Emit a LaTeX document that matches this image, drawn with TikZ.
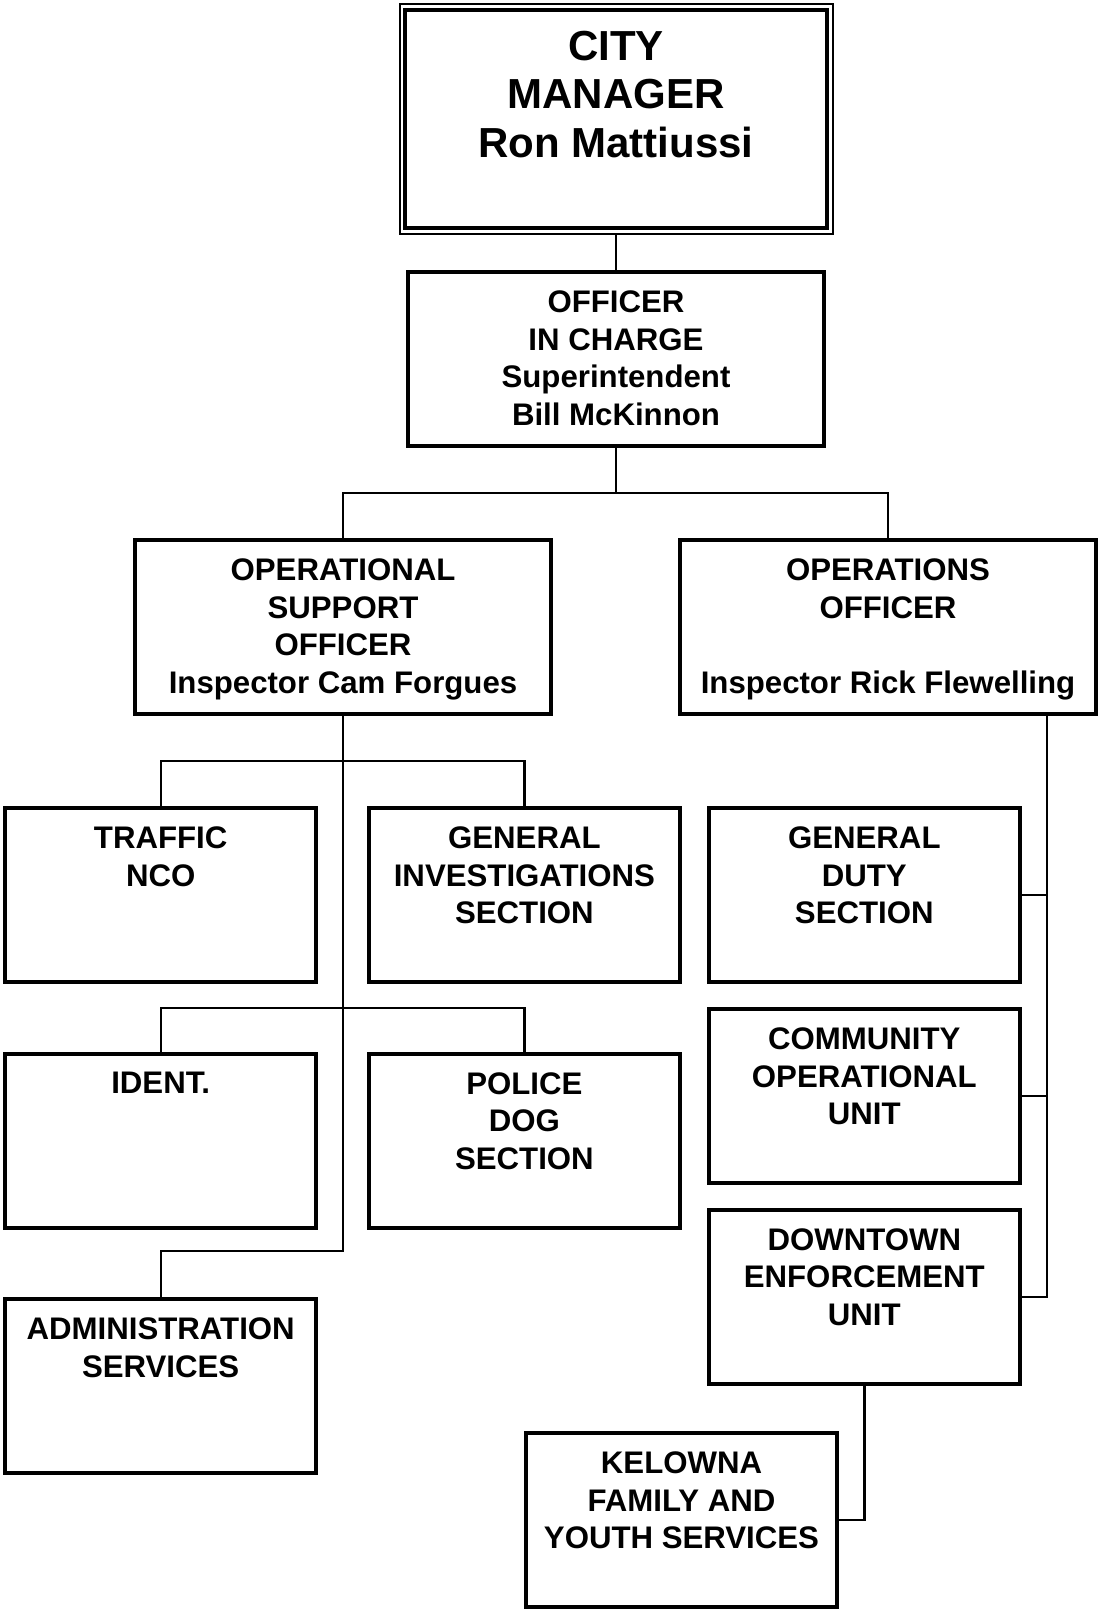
\documentclass[tikz,border=0pt]{standalone}
\usepackage{fontspec}
\setmainfont{Liberation Sans}
\usetikzlibrary{fit}

\tikzset{
  unit/.style={draw, line width=2pt, minimum width=155.5pt, minimum height=87pt, inner sep=0pt},
  head/.style={unit, minimum width=208pt},
  txt/.style={align=center, inner sep=0pt, anchor=north, yshift=-10.25pt,
    font=\bfseries\fontsize{15.6}{18.75}\selectfont},
  link/.style={line width=1.2pt}
}

\begin{document}
\begin{tikzpicture}[x=0.5pt, y=-0.5pt]
        \useasboundingbox (0,0) rectangle (1098,1611);

        \node[draw, line width=2pt, minimum width=211pt, minimum height=108.75pt, inner sep=0pt,
          label={[txt, yshift=-1.15pt, font=\bfseries\fontsize{21}{24.15}\selectfont]north:{CITY\\MANAGER\\Ron Mattiussi}}] (city) at (616,118.75) {};
        \node[fit=(city), draw, line width=1pt, inner xsep=1.75pt, inner ysep=2pt] (cityframe) {};

        \node[head, label={[txt]north:{OFFICER\\IN CHARGE\\Superintendent\\Bill McKinnon}}] (oic) at (616,359) {};
        \node[head, label={[txt]north:{OPERATIONAL\\SUPPORT\\OFFICER\\Inspector Cam Forgues}}] (opsup) at (343,627) {};
        \node[head, label={[txt]north:{OPERATIONS\\OFFICER\\\mbox{}\\Inspector Rick Flewelling}}] (ops) at (888,627) {};

        \node[unit, label={[txt]north:{TRAFFIC\\NCO}}] (traffic) at (160.7,895) {};
        \node[unit, label={[txt]north:{GENERAL\\INVESTIGATIONS\\SECTION}}] (gis) at (524.4,895) {};
        \node[unit, label={[txt]north:{IDENT.}}] (ident) at (160.7,1140.6) {};
        \node[unit, label={[txt]north:{POLICE\\DOG\\SECTION}}] (dog) at (524.4,1140.6) {};
        \node[unit, label={[txt]north:{ADMINISTRATION\\SERVICES}}] (admin) at (160.7,1386) {};

        \node[unit, label={[txt]north:{GENERAL\\DUTY\\SECTION}}] (gds) at (864.3,895) {};
        \node[unit, label={[txt]north:{COMMUNITY\\OPERATIONAL\\UNIT}}] (cou) at (864.3,1096) {};
        \node[unit, label={[txt]north:{DOWNTOWN\\ENFORCEMENT\\UNIT}}] (deu) at (864.3,1296.7) {};
        \node[unit, label={[txt]north:{KELOWNA\\FAMILY AND\\YOUTH SERVICES}}] (kfys) at (681.5,1520) {};

        \coordinate (top) at (616,493);
        \coordinate (left1) at (343,761);
        \coordinate (left2) at (343,1008);
        \coordinate (left3) at (343,1251);
        \coordinate (right) at (1047,1296.7);

        \draw[link] (cityframe.south) -- (oic.north);
        \draw[link] (oic.south) -- (top);
        \draw[link] (opsup.north) |- (top) -| (ops.north);

        \draw[link] (opsup.south) -- (left3) -| (admin.north);
        \draw[link] (traffic.north) |- (left1) -| (gis.north);
        \draw[link] (ident.north) |- (left2) -| (dog.north);

        \draw[link] (ops.south -| right) -- (right) -- (deu.east);
        \draw[link] (gds.east) -- (gds.east -| right);
        \draw[link] (cou.east) -- (cou.east -| right);
        \draw[link] (deu.south) |- (kfys.east);
    \end{tikzpicture}
\end{document}
